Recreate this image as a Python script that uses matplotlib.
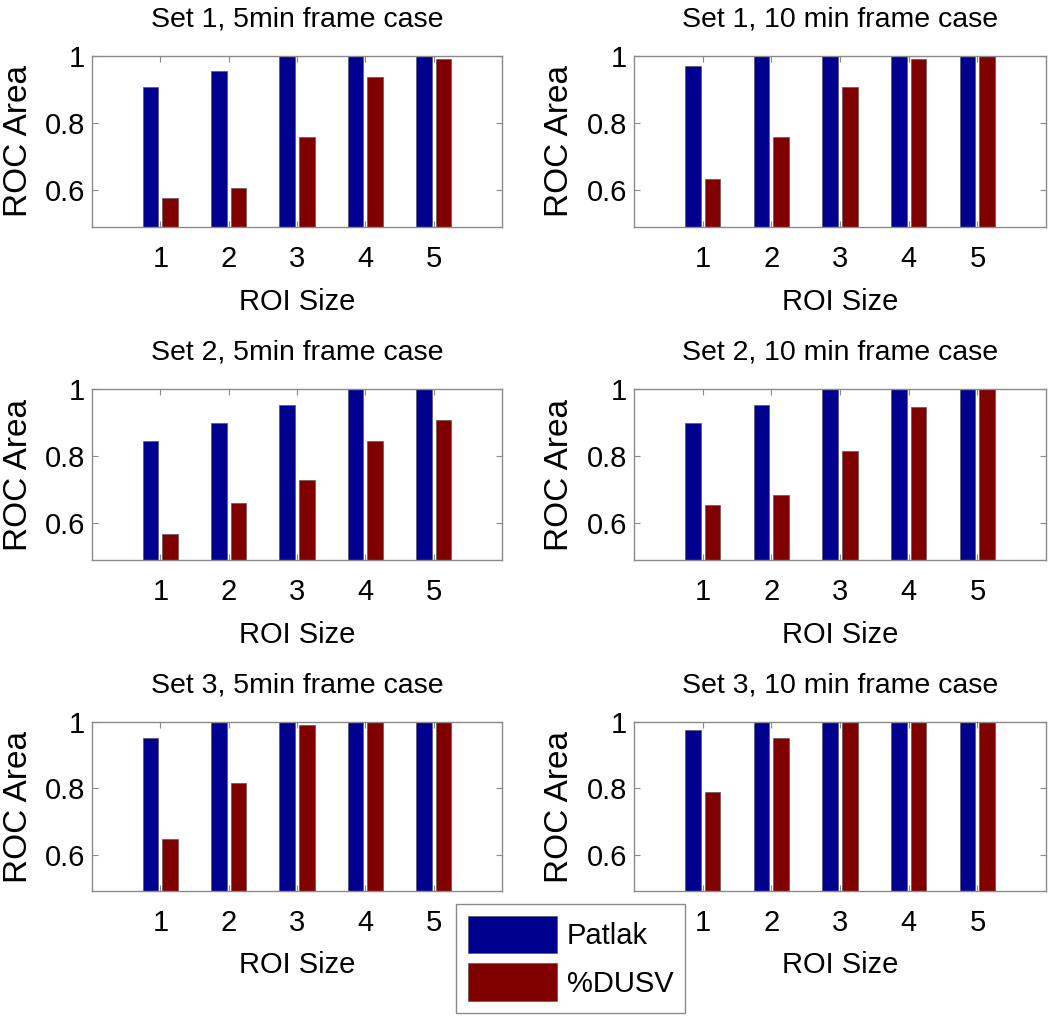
import matplotlib
matplotlib.use("Agg")
import matplotlib.pyplot as plt
import numpy as np
from matplotlib.patches import Patch

plt.rcParams['font.family'] = ['Liberation Sans', 'DejaVu Sans']

roi_sizes = [1, 2, 3, 4, 5]
titles = ["Set 1, 5min frame case", "Set 1, 10 min frame case",
          "Set 2, 5min frame case", "Set 2, 10 min frame case",
          "Set 3, 5min frame case", "Set 3, 10 min frame case"]

patlak_s1_5 = [0.906, 0.954, 1.0, 1.0, 1.0]
dusv_s1_5 = [0.576, 0.607, 0.757, 0.938, 0.992]
patlak_s1_10 = [0.969, 1.0, 1.0, 1.0, 1.0]
dusv_s1_10 = [0.632, 0.757, 0.906, 0.992, 1.0]
patlak_s2_5 = [0.846, 0.899, 0.953, 1.0, 1.0]
dusv_s2_5 = [0.569, 0.661, 0.730, 0.846, 0.908]
patlak_s2_10 = [0.899, 0.953, 1.0, 1.0, 1.0]
dusv_s2_10 = [0.653, 0.685, 0.815, 0.947, 1.0]
patlak_s3_5 = [0.953, 1.0, 1.0, 1.0, 1.0]
dusv_s3_5 = [0.648, 0.815, 0.992, 1.0, 1.0]
patlak_s3_10 = [0.976, 1.0, 1.0, 1.0, 1.0]
dusv_s3_10 = [0.790, 0.953, 1.0, 1.0, 1.0]

series_names = ["Patlak", "%DUSV"]
patlak_all = [patlak_s1_5, patlak_s1_10, patlak_s2_5, patlak_s2_10, patlak_s3_5, patlak_s3_10]
dusv_all = [dusv_s1_5, dusv_s1_10, dusv_s2_5, dusv_s2_10, dusv_s3_5, dusv_s3_10]

blue = "#00008f"
red = "#800000"
frame = "#8a8a8a"

fig = plt.figure(figsize=(10.5, 10.16), dpi=100)

lefts = [0.0876, 0.6038]
widths = [0.3905, 0.3925]
bottoms = [0.7766, 0.4488, 0.1230]
heights = [0.1683, 0.1683, 0.1663]

x = np.array(roi_sizes, dtype=float)
off = 0.143
bw = 0.229
for i in range(6):
    r, c = divmod(i, 2)
    ax = fig.add_axes([lefts[c], bottoms[r], widths[c], heights[r]])
    ax.bar(x - off, patlak_all[i], width=bw, color=blue, edgecolor="#555577", linewidth=0.5)
    ax.bar(x + off, dusv_all[i], width=bw, color=red, edgecolor="#665555", linewidth=0.5)
    ax.set_xlim(0, 6)
    ax.set_ylim(0.49, 1.0)
    ax.set_xticks(roi_sizes)
    ax.set_yticks([0.6, 0.8, 1.0])
    ax.set_yticklabels(["0.6", "0.8", "1"])
    ax.tick_params(axis='both', direction='in', length=4, width=0.8, color=frame,
                   labelsize=21, top=True, right=True)
    ax.tick_params(axis='x', pad=13)
    ax.tick_params(axis='y', pad=5)
    for s in ax.spines.values():
        s.set_color(frame)
        s.set_linewidth(1.0)
    ax.set_title(titles[i], fontsize=20.5, pad=21.5)
    ax.set_ylabel("ROC Area", fontsize=24)
    ax.yaxis.set_label_coords(-0.142, 0.5)
    ax.set_xlabel("ROI Size", fontsize=21)
    ax.xaxis.set_label_coords(0.5, -0.355)

handles = [Patch(facecolor=blue, edgecolor="#555577", linewidth=0.5),
           Patch(facecolor=red, edgecolor="#665555", linewidth=0.5)]
leg = fig.legend(handles, series_names, loc='upper left',
                 bbox_to_anchor=(456 / 1050, 1 - 904 / 1016),
                 fontsize=21, handlelength=3.05, handleheight=1.6,
                 handletextpad=0.35, labelspacing=0.35, borderpad=0.4,
                 fancybox=False, framealpha=1, edgecolor=frame, borderaxespad=0)
leg.get_frame().set_linewidth(1.0)

fig.savefig("out.png", dpi=100)
